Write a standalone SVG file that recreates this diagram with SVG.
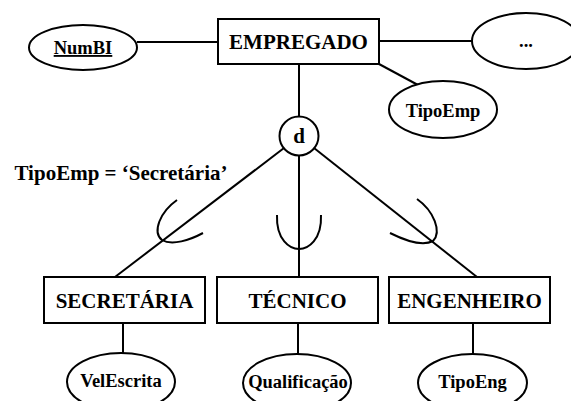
<svg xmlns="http://www.w3.org/2000/svg" width="571" height="401" viewBox="0 0 571 401">
<style>
.ent{fill:#fff;stroke:#000;stroke-width:2}
.att{fill:#fff;stroke:#000;stroke-width:2}
.ln{fill:none;stroke:#000;stroke-width:2}
text{font-family:'Liberation Serif','Times New Roman',serif;font-weight:bold;fill:#000;text-anchor:middle}
.et{font-size:21px}
.at{font-size:18.5px}
</style>
<rect width="571" height="401" fill="#fff"/>
<g id="connectors">
<line class="ln" x1="137" y1="42" x2="218" y2="42"/>
<line class="ln" x1="379" y1="41" x2="472" y2="41"/>
<line class="ln" x1="379" y1="64" x2="418" y2="85"/>
<line class="ln" x1="299" y1="64" x2="299" y2="117"/>
<line class="ln" x1="284" y1="148" x2="115" y2="277"/>
<line class="ln" x1="299" y1="155" x2="299" y2="277"/>
<line class="ln" x1="314" y1="148" x2="477" y2="277"/>
<line class="ln" x1="123" y1="323" x2="123" y2="354"/>
<line class="ln" x1="298" y1="323" x2="298" y2="355"/>
<line class="ln" x1="473" y1="323" x2="473" y2="354"/>
<path class="ln" d="M177,200 C160,212 152,232 162,240 C172,246 190,240 203,233"/>
<path class="ln" d="M277,215 C276,240 290,249 299,249 C308,249 322,240 321,215"/>
<path class="ln" d="M417,199 C434,211 442,232 433,241 C422,247 402,239 390,233"/>
</g>
<g id="NumBI">
<ellipse class="att" cx="83" cy="47.5" rx="54" ry="22.5"/>
<text class="at" x="83" y="54" text-decoration="underline" font-family="Liberation Serif, serif">NumBI</text>
</g>
<g id="EMPREGADO">
<rect class="ent" x="218" y="19" width="161" height="45"/>
<text class="et" x="298.5" y="49" font-family="Liberation Serif, serif">EMPREGADO</text>
</g>
<g id="more">
<ellipse class="att" cx="526" cy="41" rx="54" ry="28"/>
<text class="at" x="526" y="47" font-family="Liberation Serif, serif">...</text>
</g>
<g id="TipoEmp">
<ellipse class="att" cx="443" cy="109.5" rx="54" ry="28.5"/>
<text class="at" x="443" y="117" font-family="Liberation Serif, serif">TipoEmp</text>
</g>
<g id="d">
<circle class="att" cx="299" cy="136" r="19.5"/>
<text class="et" x="299" y="143" font-family="Liberation Serif, serif">d</text>
</g>
<g id="label">
<text class="et" x="121" y="180" font-family="Liberation Serif, serif">TipoEmp = ‘Secretária’</text>
</g>
<g id="SECRETARIA">
<rect class="ent" x="44" y="277" width="161" height="46"/>
<text class="et" x="124.5" y="308" font-family="Liberation Serif, serif">SECRETÁRIA</text>
</g>
<g id="TECNICO">
<rect class="ent" x="217" y="277" width="161" height="46"/>
<text class="et" x="297.5" y="308" font-family="Liberation Serif, serif">TÉCNICO</text>
</g>
<g id="ENGENHEIRO">
<rect class="ent" x="389" y="277" width="161" height="46"/>
<text class="et" x="469.5" y="308" font-family="Liberation Serif, serif">ENGENHEIRO</text>
</g>
<g id="VelEscrita">
<ellipse class="att" cx="121" cy="382" rx="54" ry="29"/>
<text class="at" x="121" y="387" font-family="Liberation Serif, serif">VelEscrita</text>
</g>
<g id="Qualificacao">
<ellipse class="att" cx="297" cy="383" rx="54" ry="29"/>
<text class="at" x="298" y="388" font-family="Liberation Serif, serif">Qualificação</text>
</g>
<g id="TipoEng">
<ellipse class="att" cx="472.5" cy="383" rx="54.5" ry="29"/>
<text class="at" x="472.5" y="388" font-family="Liberation Serif, serif">TipoEng</text>
</g>
</svg>
